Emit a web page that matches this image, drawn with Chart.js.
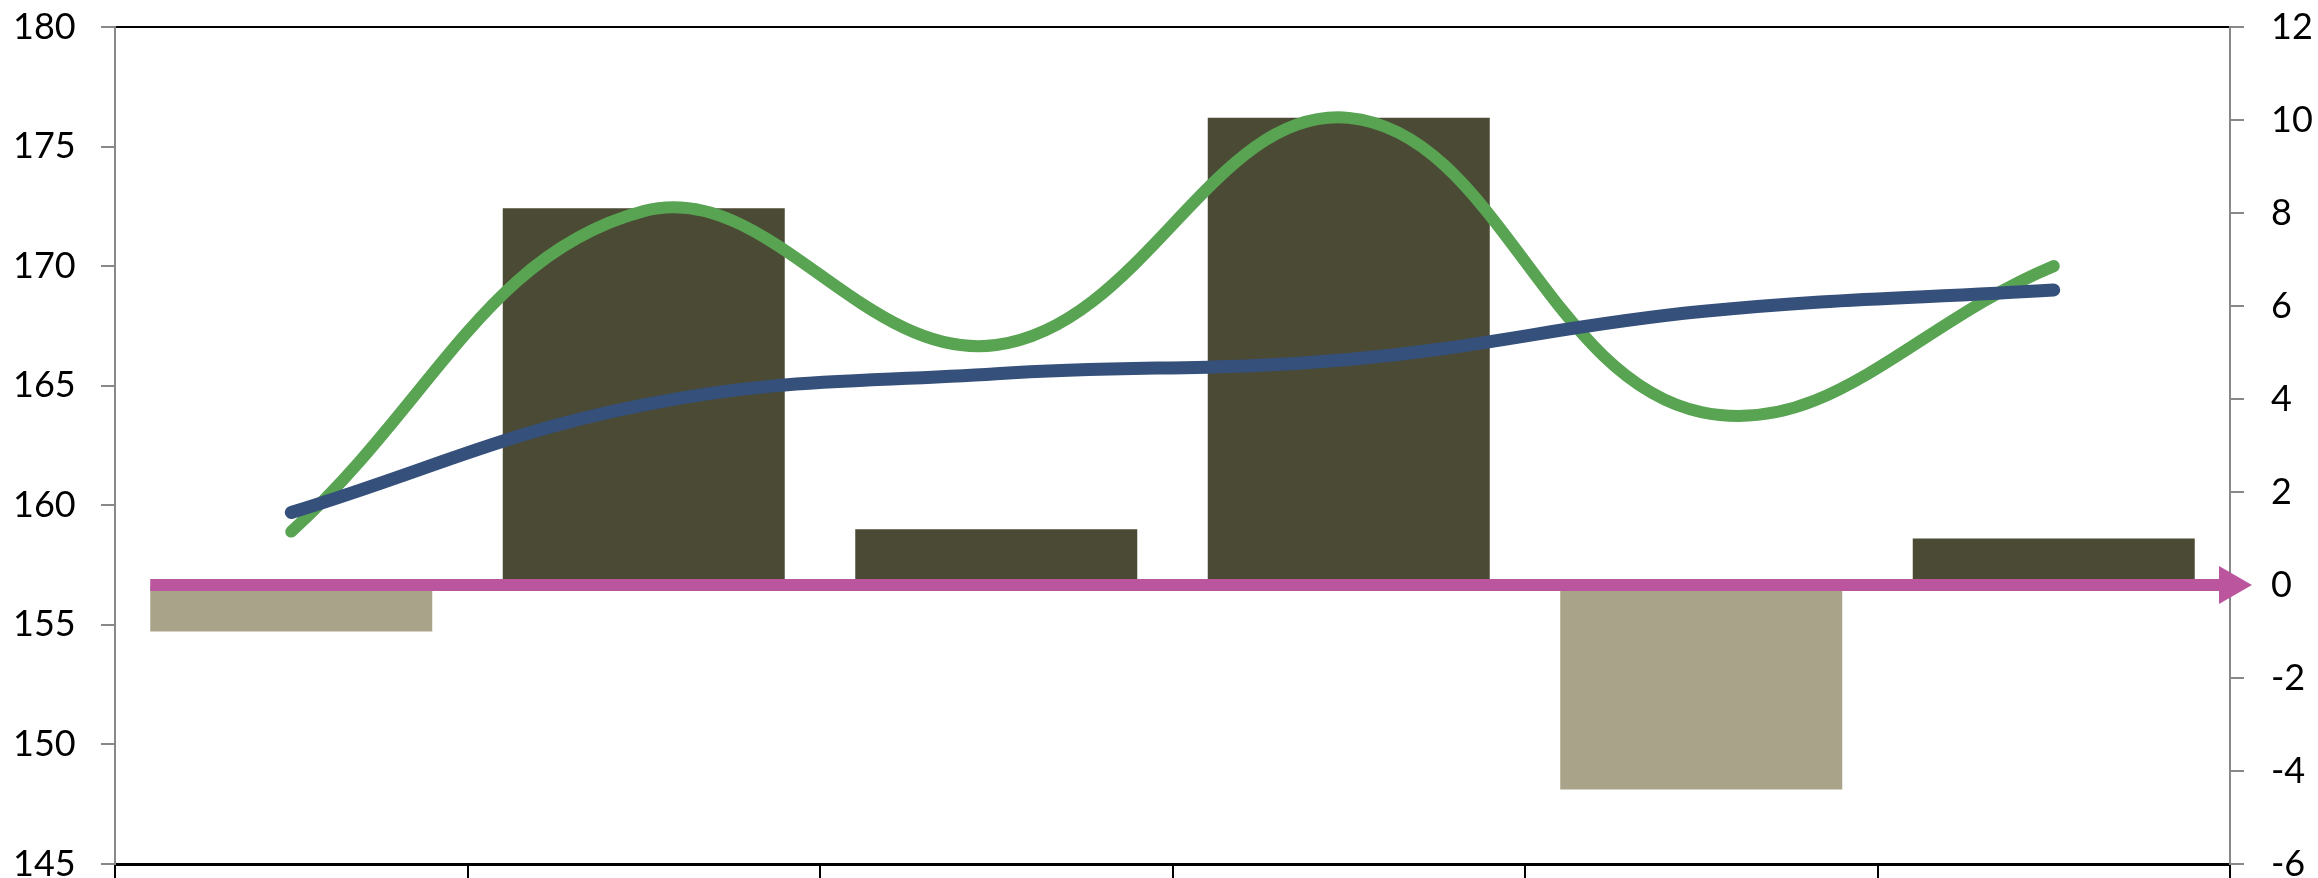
<!DOCTYPE html>
<html>
<head>
<meta charset="utf-8">
<script src="https://cdn.jsdelivr.net/npm/chart.js@4"></script>
<style>
  html, body { margin: 0; padding: 0; overflow: hidden; background: #fff; }
  #caja { width: 2318px; height: 891px; }
</style>
</head>
<body>
<div id="caja"><canvas id="grafico"></canvas></div>
<script>
// datos
var categorias = ['1', '2', '3', '4', '5', '6'];
var barras = [-1.0, 8.1, 1.2, 10.05, -4.4, 1.0];
var serieVerde = [158.9, 172.3, 166.7, 176.2, 163.9, 170.0];
var serieAzul = [159.7, 164.2, 165.5, 166.1, 168.1, 169.0];
var flechaX = [-0.4, 5.5];
var flechaY = [0, 0];
var ticksIzq = [145, 150, 155, 160, 165, 170, 175, 180];
var ticksDer = [-6, -4, -2, 0, 2, 4, 6, 8, 10, 12];

Chart.defaults.font.family = 'Lato, "Open Sans", sans-serif';
Chart.defaults.color = '#000';

function fijarTicks(lista) {
  return function (scale) {
    scale.ticks = lista.map(function (v) { return { value: v }; });
  };
}

var ctx = document.getElementById('grafico').getContext('2d');

var config = {
  type: 'bar',
  data: {
    labels: categorias,
    datasets: [
      {
        type: 'line',
        label: 'flecha',
        data: flechaX.map(function (x, i) { return { x: x, y: flechaY[i] }; }),
        xAxisID: 'xFlecha',
        yAxisID: 'y1',
        borderColor: '#bb559e',
        borderWidth: 12,
        borderCapStyle: 'butt',
        pointRadius: [0, 22],
        pointStyle: 'triangle',
        pointRotation: 90,
        pointBackgroundColor: '#bb559e',
        pointBorderWidth: 0,
        clip: false,
        order: 0
      },
      {
        type: 'line',
        label: 'azul',
        data: serieAzul,
        xAxisID: 'x',
        yAxisID: 'y',
        borderColor: '#35507a',
        borderWidth: 13,
        tension: 0.4,
        pointRadius: 0,
        borderCapStyle: 'round',
        borderJoinStyle: 'round',
        fill: false,
        order: 1
      },
      {
        type: 'line',
        label: 'verde',
        data: serieVerde,
        xAxisID: 'x',
        yAxisID: 'y',
        borderColor: '#58a452',
        borderWidth: 12,
        tension: 0.4,
        pointRadius: 0,
        borderCapStyle: 'round',
        borderJoinStyle: 'round',
        fill: false,
        order: 2
      },
      {
        type: 'bar',
        label: 'barras',
        data: barras,
        xAxisID: 'x',
        yAxisID: 'y1',
        backgroundColor: function (c) { return c.raw < 0 ? '#a8a389' : '#4b4a35'; },
        barPercentage: 0.8,
        categoryPercentage: 1.0,
        grouped: false,
        order: 3
      }
    ]
  },
  options: {
    responsive: true,
    maintainAspectRatio: false,
    animation: false,
    events: [],
    layout: { padding: { left: 13, right: 0, top: 0, bottom: 0 } },
    plugins: {
      legend: { display: false },
      tooltip: { enabled: false }
    },
    scales: {
      x: {
        type: 'category',
        offset: true,
        grid: { offset: true, drawOnChartArea: false, tickLength: 14, color: '#000', lineWidth: 2 },
        border: { display: true, color: '#000', width: 3 },
        ticks: { display: false }
      },
      xFlecha: {
        type: 'linear',
        position: 'top',
        offset: false,
        min: -0.5,
        max: 5.5,
        grid: { display: false, drawTicks: false, offset: false },
        border: { display: true, color: '#000', width: 2 },
        ticks: { display: false }
      },
      y: {
        type: 'linear',
        position: 'left',
        min: ticksIzq[0],
        max: ticksIzq[ticksIzq.length - 1],
        afterBuildTicks: fijarTicks(ticksIzq),
        afterFit: function (s) { s.width = 102; },
        grid: { drawOnChartArea: false, tickLength: 14, color: '#888', lineWidth: 2 },
        border: { color: '#888', width: 2 },
        ticks: { padding: 27, crossAlign: 'far', font: { size: 36, lineHeight: '0px' } }
      },
      y1: {
        type: 'linear',
        position: 'right',
        min: ticksDer[0],
        max: ticksDer[ticksDer.length - 1],
        afterBuildTicks: fijarTicks(ticksDer),
        afterFit: function (s) { s.width = 88; },
        grid: { drawOnChartArea: false, tickLength: 14, color: '#888', lineWidth: 2 },
        border: { color: '#888', width: 2 },
        ticks: { padding: 27, font: { size: 36, lineHeight: '0px' } }
      }
    }
  }
};

var chart = new Chart(ctx, config);
</script>
</body>
</html>
